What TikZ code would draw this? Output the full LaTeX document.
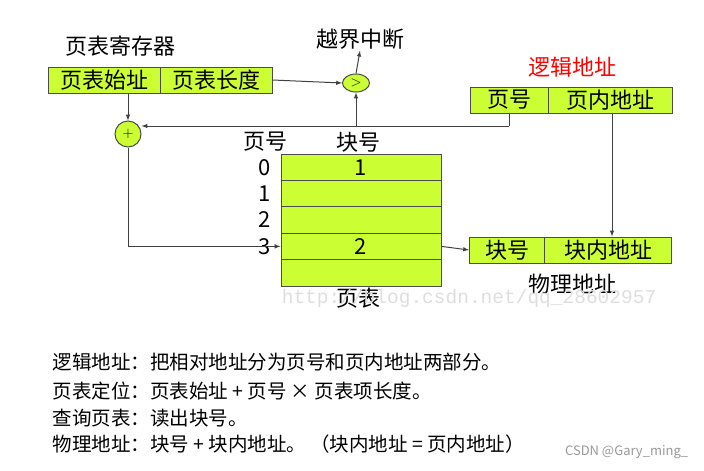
\documentclass[tikz,border=0pt]{standalone}
\usepackage{fontspec}
\usetikzlibrary{shapes.geometric}
\setmainfont{Noto Sans CJK SC}
\setmonofont{Liberation Mono}
\definecolor{lime}{HTML}{CCFF33}
\tikzset{
  cell/.style={draw=black!70,fill=lime,minimum height=26pt,inner sep=0pt,font=\fontsize{22}{22}\selectfont},
  lbl/.style={font=\fontsize{22}{22}\selectfont,inner sep=1pt},
  note/.style={font=\fontsize{19.5}{19.5}\selectfont,anchor=west,inner sep=0pt},
  arr/.style={->,>=latex,black!75}
}
\begin{document}
\begin{tikzpicture}[x=1pt,y=-1pt,line width=1pt]
\useasboundingbox (0,0) rectangle (704,471);
% page table register
\node[lbl] (regtitle) at (120,46) {页表寄存器};
\node[cell,minimum width=112pt] (base) at (104,80) {页表始址};
\node[cell,minimum width=112pt] (len) at (216,80) {页表长度};
% comparator and adder
\node[draw=black!70,fill=lime,ellipse,minimum width=27pt,minimum height=18pt,inner sep=0pt,font=\fontsize{14}{14}\selectfont] (cmp) at (356,83) {$>$};
\node[lbl] (intr) at (360,39) {越界中断};
\node[draw=black!70,fill=lime,circle,minimum size=26pt,inner sep=0pt,font=\fontsize{14}{14}\selectfont] (add) at (128,134) {$+$};
% logical address
\node[lbl,text=red] (ltitle) at (572,67) {逻辑地址};
\node[cell,minimum width=78pt] (lpage) at (509,100) {页号};
\node[cell,minimum width=124pt] (loff) at (610,100) {页内地址};
% page table
\foreach \i in {0,...,4}
  \node[cell,minimum width=160pt,minimum height=26.4pt] (row\i) at (361,167.2+26.4*\i) {};
\node[lbl] at (row0) {1};
\node[lbl] at (row3) {2};
\foreach \i in {0,...,3}
  \node[lbl] (num\i) at (265,167.2+26.4*\i) {\i};
\node[lbl] (hpage) at (265,142) {页号};
\node[lbl] (hframe) at (358,142) {块号};
\node[lbl] (ptitle) at (358,298) {页表};
% physical address
\node[cell,minimum width=75pt] (pframe) at (507,250) {块号};
\node[cell,minimum width=127pt] (poff) at (608,250) {块内地址};
\node[lbl] (phtitle) at (572,284) {物理地址};
% connectors
\coordinate (j) at (lpage.south |- 0,126);
\draw[arr] (len.east) -- (cmp.west);
\draw[arr] (cmp.north) -- (intr.south);
\draw[arr] (base.south -| add) -- (add.north);
\draw[black!75] (lpage.south) -- (j);
\draw[arr] (j) -- (add.east |- j);
\draw[arr] (cmp.south |- j) -- (cmp.south);
\draw[arr] (add.south) |- (row3.west);
\draw[arr] (row3.east) -- (pframe.west);
\draw[arr] (loff.south -| 612,0) -- (poff.north -| 612,0);
% watermark
\node[font=\ttfamily\fontsize{19.5}{19.5}\selectfont,text=black!13,anchor=west] (wm) at (278,298) {http://blog.csdn.net/qq\_28602957};
% notes
\node[note] (n1) at (52,362) {逻辑地址：把相对地址分为页号和页内地址两部分。};
\node[note] (n2) at (52,391) {页表定位：页表始址 + 页号 × 页表项长度。};
\node[note] (n3) at (52,418) {查询页表：读出块号。};
\node[note] (n4) at (52,444) {物理地址：块号 + 块内地址。 （块内地址 = 页内地址）};
\node[font=\fontsize{13}{13}\selectfont,text=black!40,anchor=east] (csdn) at (692,452) {CSDN @Gary\_ming\_};
\end{tikzpicture}
\end{document}
